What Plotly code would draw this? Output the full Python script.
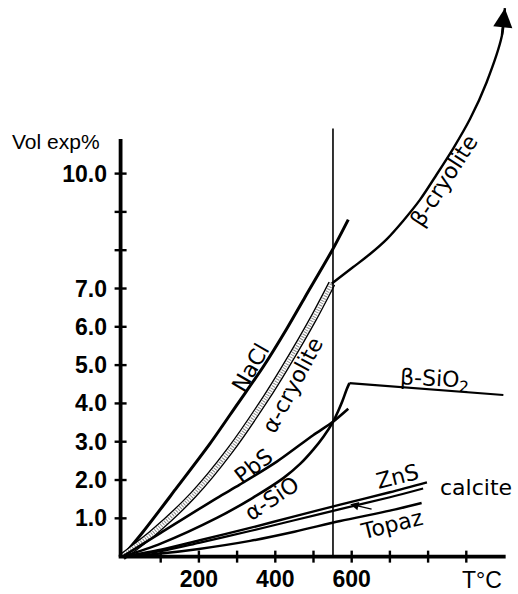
import plotly.graph_objects as go

# ---------------- data ----------------
nacl_T = [0, 54, 142, 229, 300, 368, 430, 478, 549, 591]
nacl_V = [0, 0.65, 1.8, 2.95, 3.97, 4.95, 5.95, 6.78, 8.0, 8.8]

acryo_T = [0, 80, 185, 281, 377, 425, 500, 548]
acryo_V = [0, 0.62, 1.61, 2.77, 4.16, 4.93, 6.22, 7.13]

bcryo_T = [548, 604, 648, 692, 735, 779, 822, 866, 910, 953, 993, 1001]
bcryo_V = [7.13, 7.56, 7.90, 8.29, 8.77, 9.32, 9.97, 10.66, 11.43, 12.38, 13.59, 14.32]

pbs_T = [0, 100, 247, 307, 404, 499, 551, 591]
pbs_V = [0, 0.62, 1.53, 1.88, 2.48, 3.17, 3.52, 3.86]

asio_T = [0, 100, 247, 340, 421, 465, 500, 526, 551, 565, 576, 587, 594]
asio_V = [0, 0.34, 1.01, 1.53, 2.05, 2.42, 2.8, 3.13, 3.52, 3.81, 4.07, 4.37, 4.53]

bsio_T = [594, 997]
bsio_V = [4.53, 4.22]

zns_T = [0, 100, 200, 334, 450, 570, 700, 797]
zns_V = [0, 0.18, 0.42, 0.75, 1.05, 1.36, 1.68, 1.94]

calcite_T = [0, 100, 200, 334, 450, 570, 700, 787]
calcite_V = [0, 0.14, 0.36, 0.67, 0.95, 1.24, 1.55, 1.78]

topaz_T = [0, 100, 200, 334, 450, 570, 700, 783]
topaz_V = [0, 0.08, 0.20, 0.41, 0.65, 0.93, 1.20, 1.40]

calcite_arrow_T = [656, 596]
calcite_arrow_V = [1.23, 1.37]

transition_T = 551
transition_top_V = 11.18

y_tick_vals = [1, 2, 3, 4, 5, 6, 7, 8, 9, 10]
y_tick_text = ["1.0", "2.0", "3.0", "4.0", "5.0", "6.0", "7.0", "", "", "10.0"]
x_tick_vals = [100, 200, 300, 400, 500, 600, 700, 800, 900]
x_tick_text = ["", "200", "", "400", "", "600", "", "", ""]

# ---------------- figure ----------------
fig = go.Figure()


def add_curve(T, V, width=2.6, shape="spline", color="black", dash="solid"):
    fig.add_trace(go.Scatter(
        x=T, y=V, mode="lines",
        line=dict(color=color, width=width, shape=shape, smoothing=0.8, dash=dash),
        hoverinfo="skip", showlegend=False,
    ))


add_curve(nacl_T, nacl_V, width=3)
# hatched alpha-cryolite band
add_curve(acryo_T, acryo_V, width=7.5)
add_curve(acryo_T, acryo_V, width=4.8, color="white")
add_curve(acryo_T, acryo_V, width=4.0, color="#8c8c8c", dash="1px,1.6px")
add_curve(bcryo_T, bcryo_V, width=2.4)
add_curve(pbs_T, pbs_V, width=2.6)
add_curve(asio_T, asio_V, width=2.6)
add_curve(bsio_T, bsio_V, width=2.2, shape="linear")
add_curve(zns_T, zns_V, width=2.4)
add_curve(calcite_T, calcite_V, width=2.2)
add_curve(topaz_T, topaz_V, width=2.4)

# arrow head at the end of beta-cryolite
fig.add_annotation(
    x=bcryo_T[-1], y=bcryo_V[-1], ax=bcryo_T[-2], ay=bcryo_V[-2],
    xref="x", yref="y", axref="x", ayref="y",
    showarrow=True, arrowhead=2, arrowsize=1.6, arrowwidth=2.4, arrowcolor="black", text="",
)
# small arrow on calcite
fig.add_annotation(
    x=calcite_arrow_T[1], y=calcite_arrow_V[1], ax=calcite_arrow_T[0], ay=calcite_arrow_V[0],
    xref="x", yref="y", axref="x", ayref="y",
    showarrow=True, arrowhead=2, arrowsize=1.2, arrowwidth=1.4, arrowcolor="black", text="",
)

# axes drawn as lines
fig.add_shape(type="line", xref="x", yref="y", x0=-5, x1=-5, y0=0, y1=10.9,
              line=dict(color="black", width=3.8))
fig.add_shape(type="line", xref="x", yref="y", x0=-10, x1=1003, y0=0, y1=0,
              line=dict(color="black", width=3.8))
for v in y_tick_vals:
    fig.add_shape(type="line", xref="x", yref="y", xsizemode="pixel", xanchor=-5,
                  x0=-6, x1=6, y0=v, y1=v, line=dict(color="black", width=2.4))
for t in x_tick_vals:
    fig.add_shape(type="line", xref="x", yref="y", ysizemode="pixel", yanchor=0,
                  y0=-6, y1=6, x0=t, x1=t, line=dict(color="black", width=2.4))
# transition line
fig.add_shape(type="line", xref="x", yref="y", x0=transition_T, x1=transition_T,
              y0=0, y1=transition_top_V, line=dict(color="black", width=1.6))

label_font = dict(family="DejaVu Sans", size=22, color="black")
labels = [
    ("NaCl", 334, 4.92, -60),
    ("\u03b1-cryolite", 444, 4.48, -62),
    ("PbS", 342, 2.36, -38),
    ("\u03b1-SiO", 391, 1.51, -34),
    ("\u03b2-cryolite", 842, 9.82, -57),
    ("\u03b2-SiO<sub>2</sub>", 818, 4.61, 3),
    ("ZnS", 721, 2.09, -14),
    ("calcite", 925, 1.80, 0),
    ("Topaz", 705, 0.85, -14),
]
for txt, x, y, ang in labels:
    fig.add_annotation(x=x, y=y, xref="x", yref="y", text=txt, showarrow=False,
                       textangle=ang, font=label_font, xanchor="center", yanchor="middle")

fig.add_annotation(x=-5, y=10.85, xref="x", yref="y", text="Vol exp%", showarrow=False,
                   xanchor="right", yanchor="middle", xshift=-19,
                   font=dict(family="Liberation Sans", size=21, color="black"))
fig.add_annotation(x=942, y=0, xref="x", yref="y", text="T\u00b0C", showarrow=False,
                   xanchor="center", yanchor="top", yshift=-8,
                   font=dict(family="Liberation Sans", size=23, color="black"))

tick_font = dict(family="Liberation Sans", size=23, color="black", weight="bold")
fig.update_layout(
    width=518, height=594,
    margin=dict(l=105, r=2, t=2, b=19),
    paper_bgcolor="white", plot_bgcolor="white",
    xaxis=dict(range=[-45.8, 1030.1], tickvals=x_tick_vals, ticktext=x_tick_text,
               showgrid=False, zeroline=False, showline=False, ticks="",
               tickfont=tick_font, ticklabelstandoff=-6, fixedrange=True),
    yaxis=dict(range=[-0.323, 14.48], tickvals=y_tick_vals, ticktext=y_tick_text,
               showgrid=False, zeroline=False, showline=False, ticks="",
               tickfont=tick_font, ticklabelstandoff=-3, fixedrange=True),
)

fig.write_html("out.html")
